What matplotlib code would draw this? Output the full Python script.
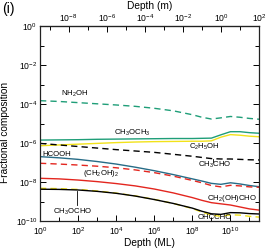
import matplotlib
matplotlib.use("Agg")
import matplotlib.pyplot as plt
from matplotlib.ticker import FixedLocator, NullFormatter, LogFormatterSciNotation

plt.rcParams['font.family'] = ['Liberation Sans', 'DejaVu Sans']
plt.rcParams['mathtext.fontset'] = 'custom'
plt.rcParams['mathtext.rm'] = 'Liberation Sans'
plt.rcParams['mathtext.it'] = 'Liberation Sans'
plt.rcParams['mathtext.default'] = 'rm'

# depth in monolayers
depth_ml = [1e0, 1e1, 1e2, 1e3, 1e4, 1e5, 1e6, 1e7, 1e8, 3.16e8,
            1e9, 3.16e9, 1e10, 3.16e10, 1e11, 3.16e11]
ML_TO_M = 10 ** -9.5

# log10 fractional composition
nh2oh = [-3.83, -3.87, -3.93, -3.99, -4.05, -4.12, -4.22, -4.35, -4.55, -4.68,
         -4.77, -4.71, -4.64, -4.68, -4.74, -4.78]
ch3och3 = [-5.85, -5.84, -5.83, -5.81, -5.80, -5.79, -5.78, -5.77, -5.77, -5.76,
           -5.75, -5.58, -5.42, -5.42, -5.47, -5.50]
c2h5oh = [-6.14, -6.10, -6.06, -6.02, -5.98, -5.95, -5.93, -5.92, -5.91, -5.91,
          -5.89, -5.70, -5.57, -5.60, -5.65, -5.68]
ch3cho = [-6.02, -6.10, -6.18, -6.26, -6.34, -6.41, -6.48, -6.58, -6.68, -6.74,
          -6.80, -6.82, -6.82, -6.84, -6.86, -6.87]
hcooh = [-6.70, -6.76, -6.84, -6.95, -7.08, -7.24, -7.42, -7.62, -7.84, -7.95,
         -8.07, -8.12, -8.04, -8.10, -8.18, -8.24]
ch2oh2 = [-7.04, -7.08, -7.13, -7.19, -7.27, -7.38, -7.52, -7.70, -7.92, -8.04,
          -8.18, -8.25, -8.17, -8.20, -8.25, -8.27]
ch2ohcho = [-7.81, -7.84, -7.90, -7.98, -8.08, -8.20, -8.36, -8.56, -8.80, -8.94,
            -9.06, -9.12, -9.18, -9.28, -9.38, -9.44]
ch3ocho = [-8.37, -8.38, -8.41, -8.48, -8.58, -8.72, -8.90, -9.10, -9.34, -9.50,
           -9.63, -9.66, -9.57, -9.58, -9.62, -9.64]
ohccho = [-8.32, -8.34, -8.38, -8.46, -8.57, -8.71, -8.89, -9.10, -9.36, -9.54,
          -9.70, -9.76, -9.68, -9.70, -9.76, -9.80]

GREEN = '#1f9e78'
YELLOW = '#f2e21a'
BLUE = '#276c87'
RED = '#e3261f'

series = [
    (nh2oh, GREEN, '--'),
    (ch3och3, GREEN, '-'),
    (c2h5oh, YELLOW, '-'),
    (ch3cho, 'black', '--'),
    (hcooh, BLUE, '-'),
    (ch2oh2, RED, '--'),
    (ch2ohcho, RED, '-'),
    (ohccho, YELLOW, '--'),
    (ch3ocho, 'black', '-'),
]

fig = plt.figure(figsize=(2.66, 2.5), dpi=100)
ax = fig.add_axes([0.1504, 0.116, 0.8233, 0.78])

for vals, col, ls in series:
    ax.plot(depth_ml, [10 ** v for v in vals], color=col, ls=ls, lw=1.0,
            dashes=(4.5, 3) if ls == '--' else (None, None))

ax.set_xscale('log')
ax.set_yscale('log')
ax.set_xlim(1, 10 ** 11.5)
ax.set_ylim(1e-10, 1)

fs = 5.6
ax.xaxis.set_major_locator(FixedLocator([10.0 ** k for k in range(0, 12, 2)]))
ax.xaxis.set_minor_locator(FixedLocator([10.0 ** k for k in range(1, 12, 2)]))
ax.yaxis.set_major_locator(FixedLocator([10.0 ** k for k in range(-10, 1, 2)]))
ax.yaxis.set_minor_locator(FixedLocator([10.0 ** k for k in range(-9, 0, 2)]))
ax.xaxis.set_minor_formatter(NullFormatter())
ax.yaxis.set_minor_formatter(NullFormatter())
ax.tick_params(which='both', direction='in', right=True, labelsize=fs + 0.6,
               width=0.7, pad=2)
ax.tick_params(axis='x', pad=3)
ax.tick_params(which='major', length=4)
ax.tick_params(which='minor', length=3)
for s in ax.spines.values():
    s.set_linewidth(0.9)
    s.set_color('#222222')

top = ax.secondary_xaxis('top', functions=(lambda x: x * ML_TO_M,
                                           lambda x: x / ML_TO_M))
top.xaxis.set_major_locator(FixedLocator([10.0 ** k for k in range(-8, 3, 2)]))
top.xaxis.set_minor_locator(FixedLocator([10.0 ** k for k in range(-9, 2, 2)]))
top.xaxis.set_major_formatter(LogFormatterSciNotation())
top.xaxis.set_minor_formatter(NullFormatter())
top.tick_params(which='both', direction='in', labelsize=fs + 0.6, width=0.7, pad=1.5)
top.tick_params(which='major', length=4)
top.tick_params(which='minor', length=3)
top.set_xlabel('Depth (m)', fontsize=7.3, labelpad=2)

ax.set_xlabel('Depth (ML)', fontsize=7.3, labelpad=1)
ax.set_ylabel('Fractional composition', fontsize=7.3)
ax.yaxis.set_label_coords(-0.135, 0.455)

labels = [
    ('NH$_2$OH', 10 ** 1.8, 10 ** -3.5),
    ('CH$_3$OCH$_3$', 10 ** 4.83, 10 ** -5.47),
    ('C$_2$H$_5$OH', 10 ** 8.62, 10 ** -6.2),
    ('HCOOH', 10 ** 0.9, 10 ** -6.57),
    ('CH$_3$CHO', 10 ** 9.15, 10 ** -7.12),
    ('(CH$_2$OH)$_2$', 10 ** 3.22, 10 ** -7.55),
    ('CH$_2$(OH)CHO', 10 ** 10.08, 10 ** -8.87),
    ('OHCCHO', 10 ** 9.2, 10 ** -9.84),
    ('CH$_3$OCHO', 10 ** 1.72, 10 ** -9.54),
]
for txt, x, y in labels:
    ax.text(x, y, txt, fontsize=fs, ha='center', va='center')

# leader lines
ax.plot([10 ** 1.92, 10 ** 1.92], [10 ** -8.45, 10 ** -9.2], color='black', lw=0.6)
ax.plot([10 ** 9.08, 10 ** 9.08], [10 ** -6.82, 10 ** -6.98], color='black', lw=0.6)

fig.text(0.008, 0.99, '(i)', fontsize=10, ha='left', va='top')

fig.savefig('out.png', dpi=100)
